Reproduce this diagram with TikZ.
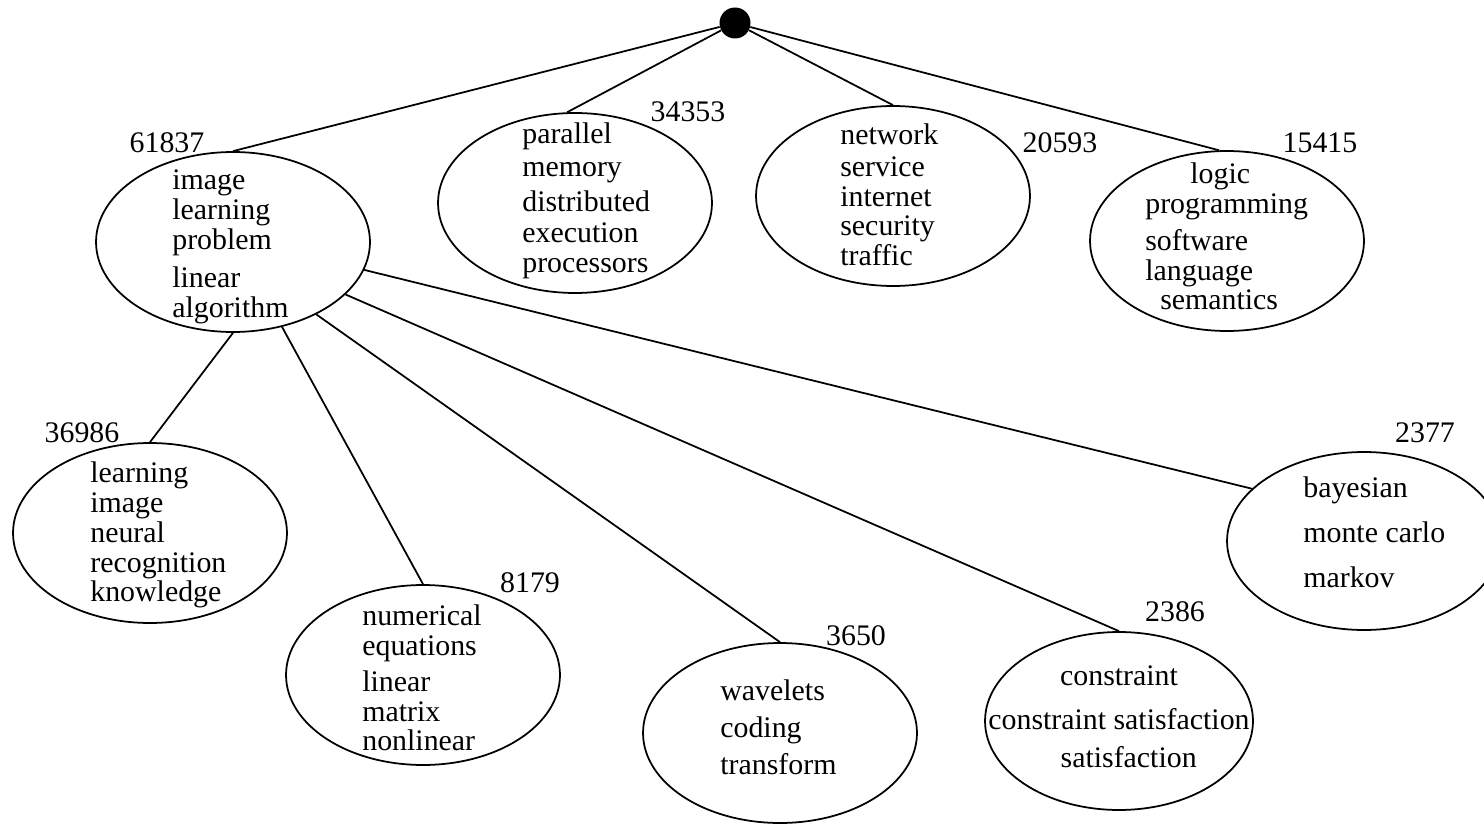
\documentclass[tikz,border=0pt]{standalone}
\usepackage{fontspec}
\setmainfont{Liberation Serif}
\usetikzlibrary{shapes.geometric}

\begin{document}
\begin{tikzpicture}[
    x=0.02cm, y=-0.02cm,
    every node/.style={font=\fontsize{17}{17}\selectfont},
    topic/.style={ellipse, draw, line width=1pt, minimum width=5.48cm, minimum height=3.6cm, inner sep=0pt},
    words/.style={inner sep=0pt, align=left, anchor=west},
    count/.style={inner sep=0pt},
    link/.style={line width=1pt},
]
    \useasboundingbox (0,0) rectangle (1484,824);

    % Root
    \node[circle, fill=black, minimum size=0.62cm, inner sep=0pt] (root) at (735,23) {};

    % First level
    \node[topic] (e1) at (233,242) {};
    \node[topic] (e2) at (575,203) {};
    \node[topic] (e3) at (893,196) {};
    \node[topic] (e4) at (1227,241) {};

    % Second level, under the first cluster
    \node[topic] (e5) at (150,533) {};
    \node[topic] (e6) at (423,675) {};
    \node[topic] (e7) at (780,733) {};
    \node[topic, minimum width=5.36cm, minimum height=3.56cm] (e8) at (1119,721) {};
    \node[topic, minimum height=3.56cm] (e9) at (1364,541) {};

    % Top terms of each cluster
    \node[words] (w1) at (172,247) {image\\learning\\problem\\[4.5pt]linear\\algorithm};
    \node[words] (w2) at (522,201) {parallel\\[1.7pt]memory\\[2.8pt]distributed\\[1.1pt]execution\\processors};
    \node[words] (w3) at (840,195) {network\\[1pt]service\\internet\\security\\traffic};
    \node[words] (w4) at (1145,236.5) {\hspace*{25.6pt}logic\\programming\\[4pt]software\\language\\\hspace*{8.5pt}semantics};
    \node[words] (w5) at (90,535) {learning\\image\\neural\\recognition\\knowledge};
    \node[words] (w6) at (362,678) {numerical\\equations\\[3.4pt]linear\\matrix\\nonlinear};
    \node[words] (w7) at (720,727) {wavelets\\[4pt]coding\\[4pt]transform};
    \node[words, align=center, anchor=center] (w8) at (1119,716.5) {constraint\\[8pt]constraint satisfaction\\[4.5pt]\hspace*{11pt}satisfaction};
    \node[words] (w9) at (1303,532) {bayesian\\[8.5pt]monte carlo\\[8.5pt]markov};

    % Sizes
    \node[count] (c1) at (167,143) {61837};
    \node[count] (c2) at (688,112) {34353};
    \node[count] (c3) at (1060,143) {20593};
    \node[count] (c4) at (1320,143) {15415};
    \node[count] (c5) at (82,433) {36986};
    \node[count] (c6) at (530,583) {8179};
    \node[count] (c7) at (856,636) {3650};
    \node[count] (c8) at (1175,612) {2386};
    \node[count] (c9) at (1425,433) {2377};

    % Edges
    \draw[link] (root) -- (e1.north);
    \draw[link] (root) -- (e2.95);
    \draw[link] (root) -- (e3.north);
    \draw[link] (root) -- (e4.95);
    \draw[link] (e1.south) -- (e5.north);
    \draw[link] (e1.-60) -- (e6.north);
    \draw[link] (e1.-41) -- (e7.north);
    \draw[link] (e1.-25) -- (e8.north);
    \draw[link] (e1.-12.5) -- (e9.155);
\end{tikzpicture}
\end{document}
